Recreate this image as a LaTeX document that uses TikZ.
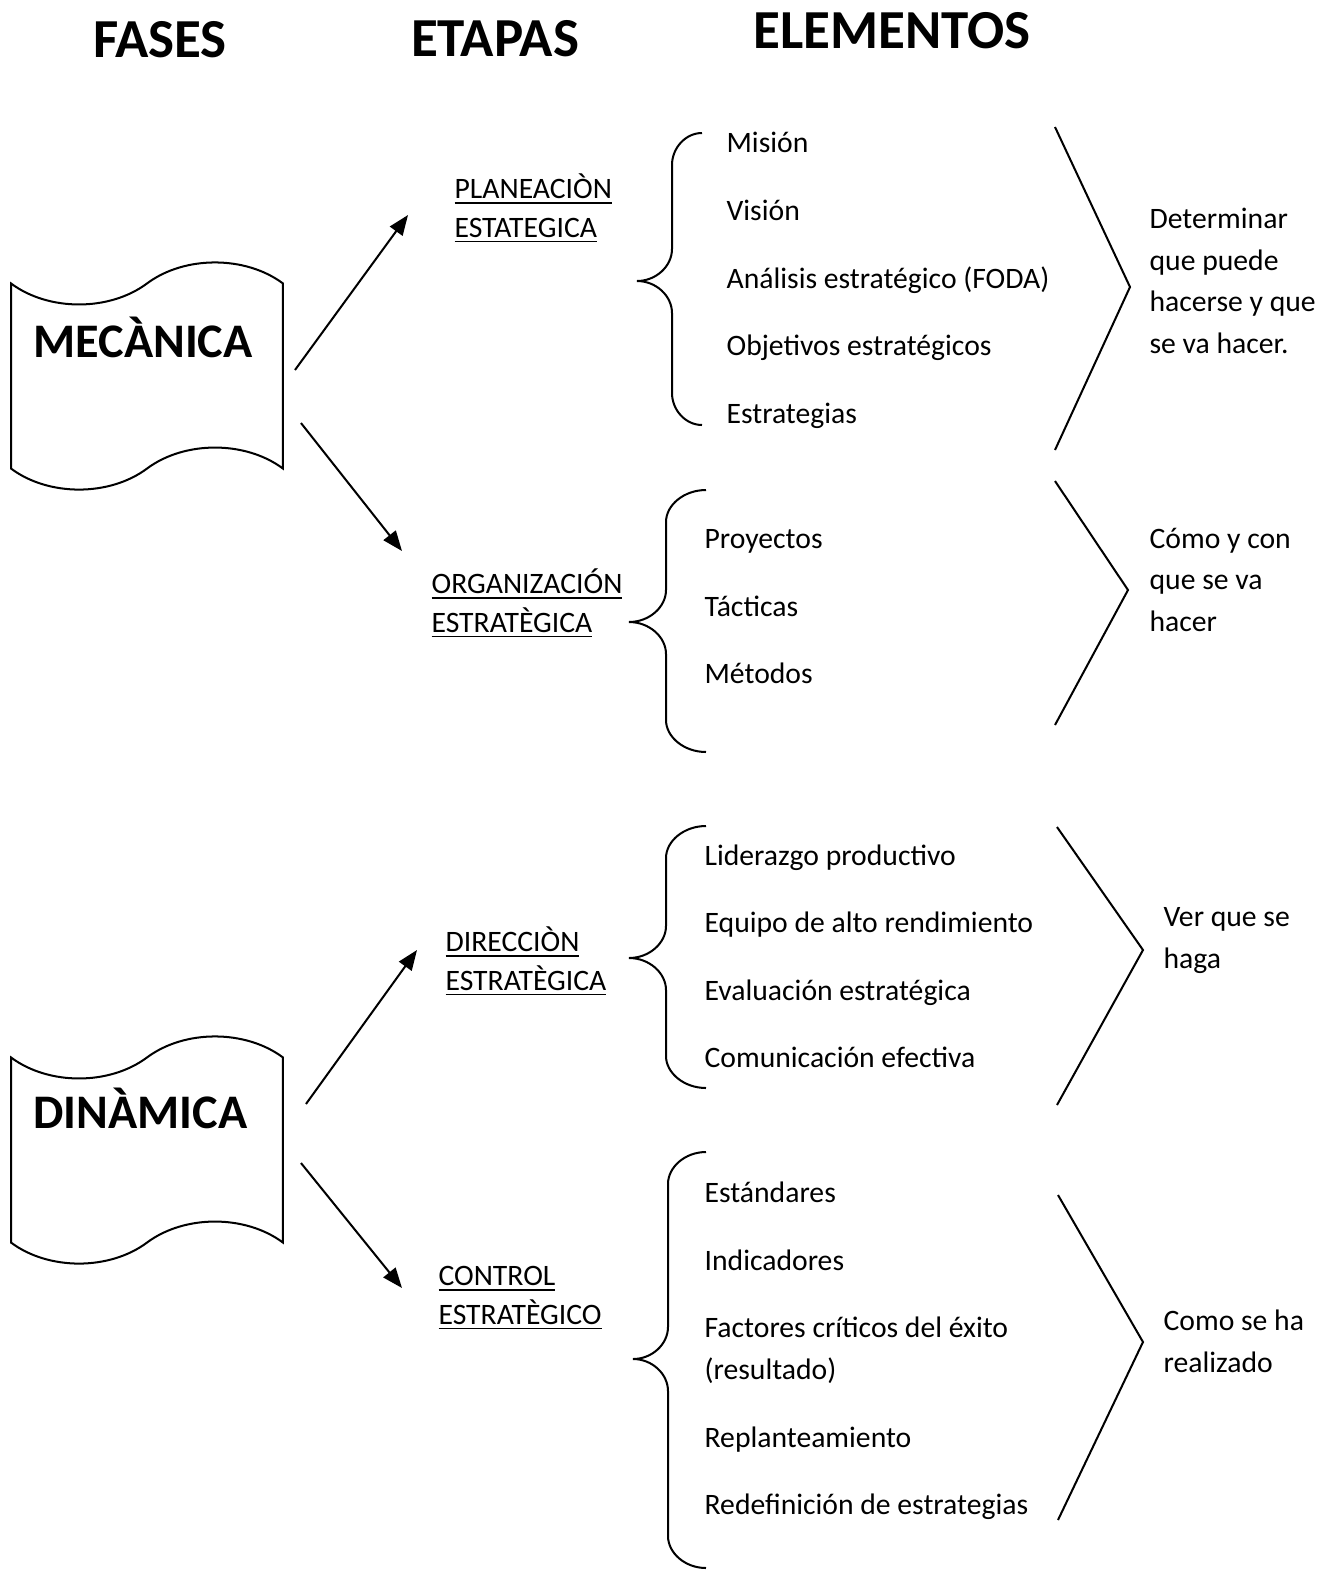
\documentclass[tikz,border=0pt]{standalone}
\usepackage{fontspec}
\setmainfont{Carlito}
\usepackage{tikz}
\usetikzlibrary{arrows.meta,shapes.symbols}

% underline with a heavier rule
\newcommand{\subr}[1]{\leavevmode\vtop{\hbox{#1}\kern1.1pt\hrule height 0.6pt}}

% curly brace: x of ends, x of stem, x of tip, y top, y middle, y bottom
\newcommand{\llave}[6]{%
  \draw[linea] (#1,#4) .. controls ({#1-0.55*(#1-#2)},#4) and (#2,{#4+15}) .. (#2,{#4+32})
    -- (#2,{#5-32}) .. controls (#2,{#5-15}) and ({#3+0.55*(#2-#3)},#5) .. (#3,#5)
    .. controls ({#3+0.55*(#2-#3)},#5) and (#2,{#5+15}) .. (#2,{#5+32})
    -- (#2,{#6-32}) .. controls (#2,{#6-15}) and ({#1-0.55*(#1-#2)},#6) .. (#1,#6);}

\tikzset{
  linea/.style = {line width=0.65pt},
  flecha/.style = {linea, -{Triangle[length=6.5pt,width=5pt]}},
  cinta/.style = {tape, draw, linea, minimum width=88pt, minimum height=73.5pt,
                  tape bend height=13.6pt, inner sep=0pt},
  fase/.style = {font=\fontsize{15.6}{18}\selectfont\bfseries, inner sep=0pt},
  titulo/.style = {font=\fontsize{17.8}{20}\selectfont\bfseries, inner sep=0pt, anchor=base},
  etapa/.style = {font=\fontsize{9.6}{12.4}\selectfont, align=left, inner sep=0pt, anchor=base west},
  elem/.style = {font=\fontsize{9.6}{13.4}\selectfont, align=left, inner sep=0pt, anchor=base west}
}

\begin{document}
\begin{tikzpicture}[x=0.3236pt, y=-0.3236pt]
\useasboundingbox (0,0) rectangle (1329,1576);

% titulos
\node[titulo] (fases) at (160,57) {FASES};
\node[titulo] (etapas) at (495,56) {ETAPAS};
\node[titulo] (elementos) at (892,48) {ELEMENTOS};

% fases
\node[cinta] (mec) at (147,376) {};
\node[fase, anchor=base west] (mecT) at ([shift={(-114,-19)}]mec.center) {MECÀNICA};
\node[cinta] (din) at (147,1150) {};
\node[fase, anchor=base west] (dinT) at ([shift={(-114,-22)}]din.center) {DINÀMICA};

% etapas
\node[etapa] (plan) at (454,237) {\subr{PLANEACIÒN}\\\subr{ESTATEGICA}};
\node[etapa] (org) at (431,632) {\subr{ORGANIZACIÓN}\\\subr{ESTRATÈGICA}};
\node[etapa] (dir) at (445,990) {\subr{DIRECCIÒN}\\\subr{ESTRATÈGICA}};
\node[etapa] (con) at (438,1324) {\subr{CONTROL}\\\subr{ESTRATÈGICO}};

\draw[flecha] ([shift={(11,-6)}]mec.east) -- ([shift={(-46,-22)}]plan.base west);
\draw[flecha] ([shift={(17,47)}]mec.east) -- ([shift={(-29,-81)}]org.base west);
\draw[flecha] ([shift={(22,-46)}]din.east) -- ([shift={(-28,-40)}]dir.base west);
\draw[flecha] ([shift={(17,13)}]din.east) -- ([shift={(-36,-36)}]con.base west);

% elementos
\llave{702}{672}{637}{133}{281}{425}
\node[elem] (mision) at (726,152) {Misión};
\node[elem] (vision) at (726,220) {Visión};
\node[elem] (foda) at (726,288) {Análisis estratégico (FODA)};
\node[elem] (objetivos) at (726,355) {Objetivos estratégicos};
\node[elem] (estrategias) at (726,423) {Estrategias};

\llave{706}{666}{629}{490}{622}{752}
\node[elem] (proyectos) at (704,548) {Proyectos};
\node[elem] (tacticas) at (704,616) {Tácticas};
\node[elem] (metodos) at (704,683) {Métodos};

\llave{706}{666}{629}{826}{958}{1088}
\node[elem] (liderazgo) at (704,865) {Liderazgo productivo};
\node[elem] (equipo) at (704,932) {Equipo de alto rendimiento};
\node[elem] (evaluacion) at (704,1000) {Evaluación estratégica};
\node[elem] (comunicacion) at (704,1067) {Comunicación efectiva};

\llave{706}{668}{633}{1152}{1359}{1568}
\node[elem] (estandares) at (704,1202) {Estándares};
\node[elem] (indicadores) at (704,1270) {Indicadores};
\node[elem] (factores) at (704,1379) {Factores críticos del éxito\\(resultado)};
\node[elem] (replanteo) at (704,1447) {Replanteamiento};
\node[elem] (redefinicion) at (704,1514) {Redefinición de estrategias};

% resultados
\draw[linea] (1055,127) -- (1130,287) -- (1055,450);
\node[elem] (determinar) at (1149,353) {Determinar\\que puede\\hacerse y que\\se va hacer.};
\draw[linea] (1055,481) -- (1128,590) -- (1055,725);
\node[elem] (comoycon) at (1149,631) {Cómo y con\\que se va\\hacer};
\draw[linea] (1057,827) -- (1143,950) -- (1057,1105);
\node[elem] (verque) at (1163,968) {Ver que se\\haga};
\draw[linea] (1058,1195) -- (1143,1342) -- (1058,1520);
\node[elem] (comose) at (1163,1372) {Como se ha\\realizado};
\end{tikzpicture}
\end{document}
